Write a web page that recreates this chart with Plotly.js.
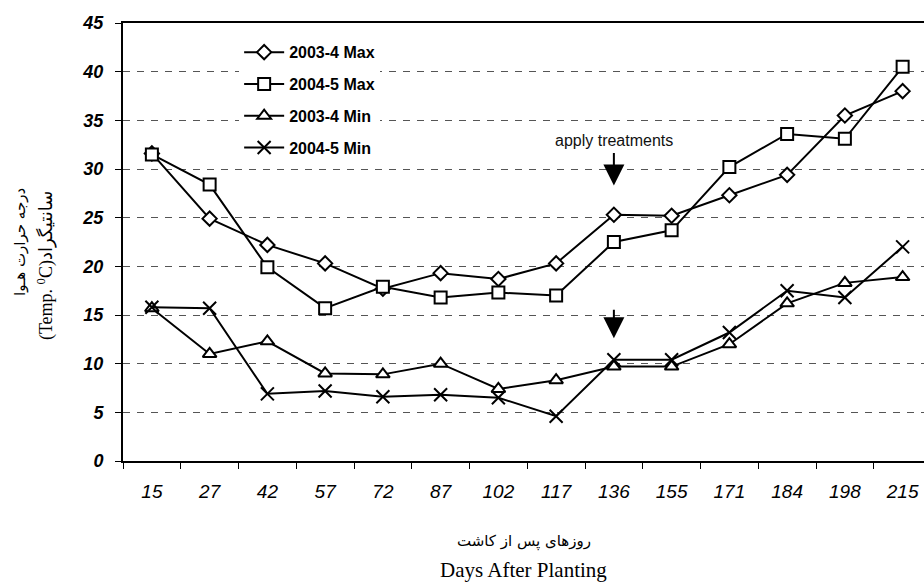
<!DOCTYPE html>
<html>
<head>
<meta charset="utf-8">
<script src="https://cdn.plot.ly/plotly-3.0.1.min.js"></script>
<style>html,body{margin:0;padding:0;background:#fff;}#chart{width:924px;height:585px;}</style>
</head>
<body>
<div id="chart"></div>
<script>
// Days after planting (categories)
const days = ['15','27','42','57','72','87','102','117','136','155','171','184','198','215'];
// Series values (°C)
const max2003 = [31.6, 24.9, 22.2, 20.3, 17.7, 19.3, 18.7, 20.3, 25.3, 25.2, 27.3, 29.4, 35.5, 38.0];
const max2004 = [31.5, 28.4, 19.9, 15.7, 17.9, 16.8, 17.3, 17.0, 22.5, 23.7, 30.2, 33.6, 33.1, 40.5];
const min2003 = [15.7, 11.0, 12.3, 9.0, 8.9, 10.0, 7.4, 8.3, 9.7, 9.7, 12.0, 16.2, 18.3, 18.9];
const min2004 = [15.8, 15.7, 6.9, 7.2, 6.6, 6.8, 6.5, 4.6, 10.4, 10.4, 13.2, 17.5, 16.8, 22.0];
const seriesNames = ['2003-4 Max', '2004-5 Max', '2003-4 Min', '2004-5 Min'];
const yTicks = [0, 5, 10, 15, 20, 25, 30, 35, 40, 45];
const treatmentDay = '136';
const arrowTips = [28.3, 12.6];
const labelY = 32.9;

const series = [max2003, max2004, min2003, min2004];
const symbols = ['diamond', 'square', 'triangle-up', 'x-thin-open'];
const sizes = [11, 12, 12, 13];

const traces = series.map((vals, i) => ({
  x: days,
  y: vals,
  name: seriesNames[i],
  legendgroup: 'g' + i,
  type: 'scatter',
  mode: 'lines+markers',
  line: {color: '#000', width: 2},
  marker: {
    symbol: symbols[i],
    size: sizes[i],
    color: i === 3 ? '#000' : '#fff',
    line: {color: '#000', width: 2}
  }
}));

const tIdx = days.indexOf(treatmentDay);

const annotations = [
  {x: tIdx, y: arrowTips[0], xref: 'x', yref: 'y', text: '', showarrow: true,
   arrowhead: 2, arrowsize: 2.1, arrowwidth: 2, arrowcolor: '#000', ax: 0, ay: -34},
  {x: tIdx, y: labelY, xref: 'x', yref: 'y', text: 'apply treatments', showarrow: false,
   xanchor: 'center', yanchor: 'middle',
   font: {family: 'Liberation Sans, Arial, sans-serif', size: 16, color: '#111'}},
  {x: tIdx, y: arrowTips[1], xref: 'x', yref: 'y', text: '', showarrow: true,
   arrowhead: 2, arrowsize: 2.1, arrowwidth: 2, arrowcolor: '#000', ax: 0, ay: -30},
  {x: 0.5, y: -0.183, xref: 'paper', yref: 'paper', xanchor: 'center', yanchor: 'middle',
   text: 'روزهای پس از کاشت', showarrow: false,
   font: {family: 'DejaVu Sans, sans-serif', size: 15, color: '#000'}},
  {x: 0.5, y: -0.249, xref: 'paper', yref: 'paper', xanchor: 'center', yanchor: 'middle',
   text: 'Days After Planting', showarrow: false,
   font: {family: 'Liberation Serif, Times New Roman, serif', size: 21, color: '#000'}},
  {x: -0.1286, y: 0.5, xref: 'paper', yref: 'paper', xanchor: 'center', yanchor: 'middle',
   text: 'درجه حرارت هـوا', showarrow: false, textangle: -90,
   font: {family: 'DejaVu Sans, sans-serif', size: 15, color: '#000'}},
  {x: -0.0961, y: 0.445, xref: 'paper', yref: 'paper', xanchor: 'center', yanchor: 'middle',
   text: '(Temp. <sup>0</sup>C)سانتیگراد', showarrow: false, textangle: -90,
   font: {family: 'Liberation Serif, DejaVu Sans, serif', size: 18, color: '#000'}}
];

const layout = {
  width: 924, height: 585,
  margin: {l: 123, r: 0, t: 23, b: 124},
  paper_bgcolor: '#fff', plot_bgcolor: '#fff',
  showlegend: true,
  legend: {
    x: 0.145, y: 0.972, xanchor: 'left', yanchor: 'top',
    bgcolor: '#fff', borderwidth: 0,
    traceorder: 'grouped', tracegroupgap: 8,
    font: {family: 'Liberation Sans, Arial, sans-serif', size: 16, color: '#000', weight: 'bold'},
    itemwidth: 40
  },
  xaxis: {
    type: 'category',
    range: [-0.5, 13.37],
    showgrid: false, zeroline: false,
    showline: true, linecolor: '#000', linewidth: 2, mirror: true,
    ticks: 'outside', ticklen: 6, tickwidth: 1, tickcolor: '#000',
    tickson: 'boundaries',
    ticklabelstandoff: 12,
    tickfont: {family: 'Liberation Sans, Arial, sans-serif', size: 19, color: '#000', style: 'italic'}
  },
  yaxis: {
    range: [0, 45],
    tickvals: yTicks,
    showgrid: true, gridcolor: '#555', gridwidth: 1, griddash: '7px,7px',
    zeroline: false,
    showline: true, linecolor: '#000', linewidth: 2,
    ticks: 'outside', ticklen: 6, tickwidth: 1, tickcolor: '#000',
    ticklabelstandoff: 8,
    tickfont: {family: 'Liberation Sans, Arial, sans-serif', size: 18, color: '#000', weight: 'bold', style: 'italic'}
  },
  annotations: annotations
};

Plotly.newPlot('chart', traces, layout, {staticPlot: true, displayModeBar: false});
</script>
</body>
</html>
